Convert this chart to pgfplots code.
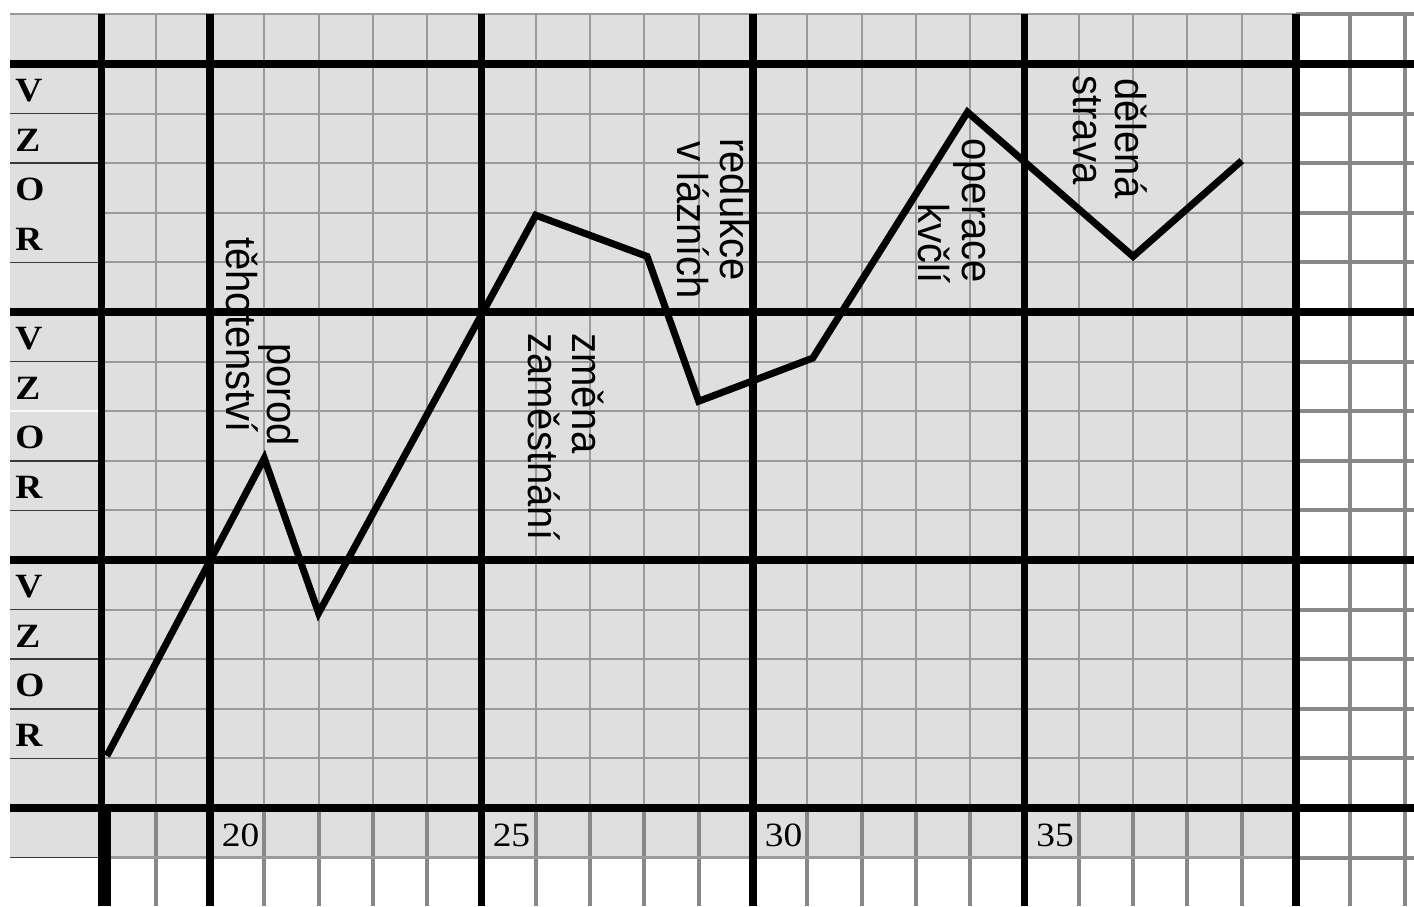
\documentclass[border=0pt]{standalone}
\usepackage{fontspec}
\setmainfont{Liberation Serif}
\newfontfamily\annfont{Liberation Sans}
\usepackage{pgfplots}
\pgfplotsset{compat=1.18}
\definecolor{bg}{HTML}{DFDFDF}
\definecolor{gridgray}{HTML}{9A9A9A}
\definecolor{thickgray}{HTML}{888888}
\definecolor{darkline}{HTML}{3A3A3A}
\tikzset{
  ann/.style={font=\annfont\fontsize{20}{20}\selectfont, inner sep=0pt, anchor=base west, xscale=1.08, rotate=-90},
  lab/.style={font=\bfseries\fontsize{17}{17}\selectfont, inner sep=0pt, anchor=base west, xscale=1.1},
  tl/.style={font=\fontsize{17}{17}\selectfont, inner sep=0pt, anchor=base west, xscale=1.1},
}
\begin{document}
\begin{tikzpicture}
\begin{axis}[
  scale only axis, width=707pt, height=453pt,
  xmin=16.133, xmax=42.173, ymin=-1.976, ymax=16.29,
  hide axis, clip=true,
]
% backgrounds
\fill[bg] (axis cs:16.317,-1) rectangle (axis cs:40,16);
% thin gray grid, main region
\pgfplotsinvokeforeach{19,21,22,23,24,26,27,28,29,31,32,33,34,36,37,38,39}{
  \draw[draw=gridgray, line width=1pt] (axis cs:#1,0) -- (axis cs:#1,16);
  \draw[draw=thickgray, line width=2pt] (axis cs:#1,-1.976) -- (axis cs:#1,0);
}
\pgfplotsinvokeforeach{1,2,3,4,6,7,8,9,11,12,13,14,16}{
  \draw[draw=gridgray, line width=1pt] (axis cs:18,#1) -- (axis cs:40,#1);
}
\draw[draw=gridgray, line width=1pt] (axis cs:16.317,16) -- (axis cs:18,16);
\draw[draw=gridgray, line width=1.5pt] (axis cs:18,-1) -- (axis cs:40,-1);
% right white region
\pgfplotsinvokeforeach{41,42}{
  \draw[draw=thickgray, line width=2pt] (axis cs:#1,-1.976) -- (axis cs:#1,16);
}
\pgfplotsinvokeforeach{-1,1,2,3,4,6,7,8,9,11,12,13,14,16}{
  \draw[draw=thickgray, line width=2pt] (axis cs:40,#1) -- (axis cs:42.173,#1);
}
% left column separators
\pgfplotsinvokeforeach{14,13,11,9,7,6,4,3,2,1,-1}{
  \draw[draw=darkline, line width=0.8pt] (axis cs:16.317,#1) -- (axis cs:18,#1);
}
\draw[draw=white!85!bg, line width=0.8pt] (axis cs:16.317,8) -- (axis cs:18,8);
% thick black lines
\pgfplotsinvokeforeach{0,5,10,15}{
  \draw[draw=black, line width=3.9pt] (axis cs:16.317,#1) -- (axis cs:42.173,#1);
}
\pgfplotsinvokeforeach{18,20,25,30,35,40}{
  \draw[draw=black, line width=3.6pt] (axis cs:#1,-1.976) -- (axis cs:#1,16);
}
\draw[draw=black, line width=6pt] (axis cs:18.067,-1.976) -- (axis cs:18.067,0);
% VZOR letters
\pgfplotsinvokeforeach{0,5,10}{
  \node[lab] at (axis cs:16.409,#1+4.24) {V};
  \node[lab] at (axis cs:16.409,#1+3.24) {Z};
  \node[lab] at (axis cs:16.409,#1+2.24) {O};
  \node[lab] at (axis cs:16.409,#1+1.24) {R};
}
% x labels
\node[tl] at (axis cs:20.21,-0.77) {20};
\node[tl] at (axis cs:25.20,-0.77) {25};
\node[tl] at (axis cs:30.21,-0.77) {30};
\node[tl] at (axis cs:35.21,-0.77) {35};
% annotations
\node[ann] at (axis cs:21.068,9.375) {porod};
\node[ann] at (axis cs:20.313,11.512) {těhotenství};
\node[ann] at (axis cs:26.685,9.577) {změna};
\node[ann] at (axis cs:25.857,9.577) {zaměstnání};
\node[ann] at (axis cs:29.393,13.508) {redukce};
\node[ann] at (axis cs:28.601,13.448) {v lázních};
\node[ann] at (axis cs:33.849,13.508) {operace};
\node[ann] at (axis cs:33.039,12.198) {kvčlí};
\node[ann] at (axis cs:36.667,14.718) {dělená};
\node[ann] at (axis cs:35.894,14.778) {strava};
% data
\addplot[black, line width=3.5pt, line join=miter, mark=none] coordinates {
  (18.1,1.05) (21,7.05) (22,3.93) (26,11.95) (28.05,11.12) (29,8.2)
  (31.1,9.07) (33.95,14.03) (37,11.12) (39,13.05)
};
\end{axis}
\pgfresetboundingbox
\path (current axis.south west) rectangle (current axis.north east);
\end{tikzpicture}
\end{document}
